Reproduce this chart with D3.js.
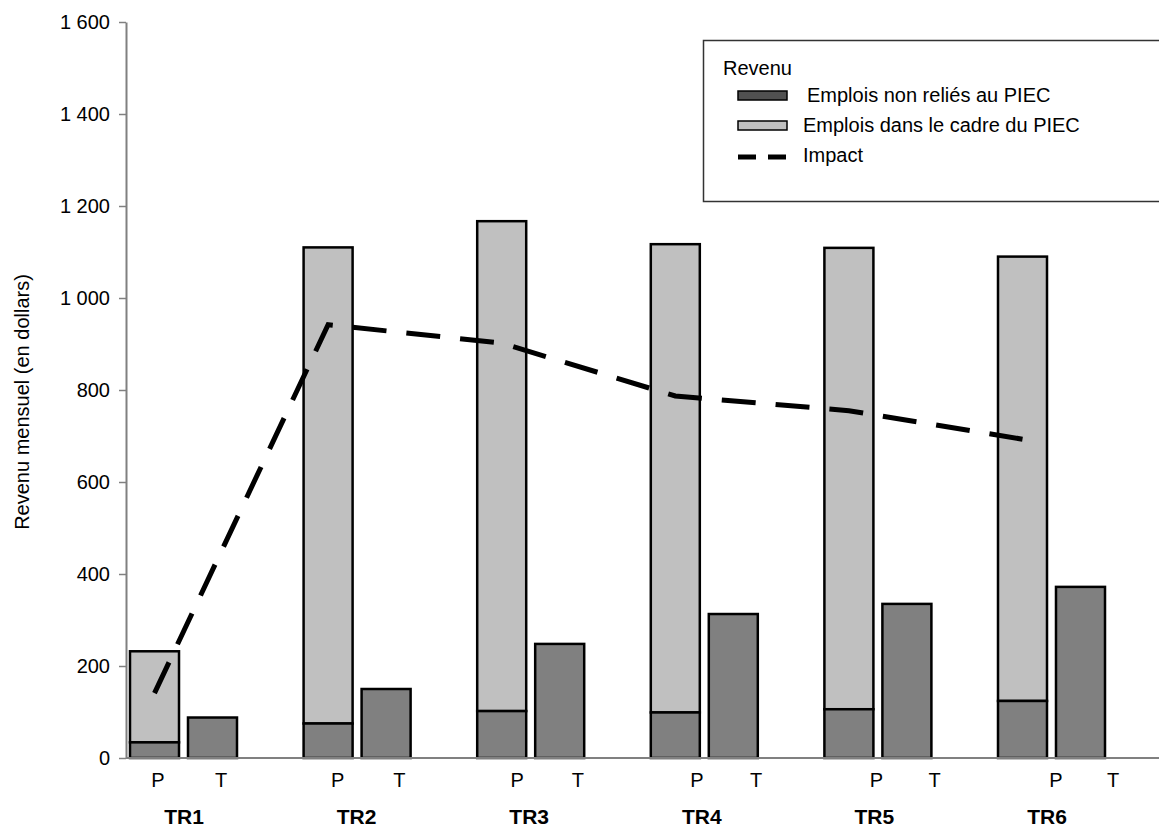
<!DOCTYPE html>
<html>
<head>
<meta charset="utf-8">
<script src="https://cdn.jsdelivr.net/npm/d3@7"></script>
<style>
  body { margin: 0; background: #fff; }
  svg { display: block; font-family: "Liberation Sans", Arial, sans-serif; }
</style>
</head>
<body>
<svg id="chart" width="1159" height="829"></svg>
<script>
// données
var groupes = ["TR1", "TR2", "TR3", "TR4", "TR5", "TR6"];
var sousBarres = ["P", "T"];
var nonPiecP = [34, 75, 102, 99, 106, 124];        // emplois non reliés au PIEC, barre P
var totalP = [232, 1110, 1167, 1117, 1109, 1090];   // total barre P
var nonPiecT = [88, 150, 248, 313, 335, 372];       // barre T
var impact = [141, 942, 902, 787, 755, 693];
var yTicks = [0, 200, 400, 600, 800, 1000, 1200, 1400, 1600];
var legendeItems = ["Emplois non reliés au PIEC", "Emplois dans le cadre du PIEC", "Impact"];

var svg = d3.select("#chart");
var W = 1159, H = 829;
var left = 126, top0 = 22, bottom = 758;

var y = d3.scaleLinear().domain([0, 1600]).range([bottom, top0]);
var x0 = d3.scaleBand().domain(groupes).range([left, left + 6 * 173.6]).padding(0);
var x1 = d3.scaleBand().domain(sousBarres).range([4, 111]).paddingInner(0.155).paddingOuter(0);
// étiquettes P / T / TR (placées à part, comme dans l'original)
var xLabP = d3.scalePoint().domain(groupes).range([158, 1056]);
var xLabT = d3.scalePoint().domain(groupes).range([221, 1113]);
var xLabTR = d3.scalePoint().domain(groupes).range([184, 1047]);

var fmt = function(d) { return d3.format(",")(d).replace(",", " "); };

//axe Y
var yAxis = d3.axisLeft(y).tickValues(yTicks).tickSize(7).tickSizeOuter(0).tickPadding(9).tickFormat(fmt);
var gy = svg.append("g").attr("transform", "translate(" + left + ",0)").call(yAxis);
gy.select(".domain").attr("stroke", "#808080").attr("stroke-width", 2);
gy.selectAll(".tick line").attr("stroke", "#808080").attr("stroke-width", 1.5);
gy.selectAll(".tick text").attr("font-size", 20).attr("fill", "#000")
  .attr("font-family", "\"Liberation Sans\", Arial, sans-serif");

svg.append("text")
  .attr("transform", "translate(29,402) rotate(-90)")
  .attr("text-anchor", "middle")
  .attr("font-size", 20)
  .text("Revenu mensuel (en dollars)");

//barres
var g = svg.append("g");
groupes.forEach(function(grp, i) {
  var bx = x0(grp);
  // barre P : partie PIEC (clair)
  g.append("rect")
    .attr("x", bx + x1("P")).attr("width", x1.bandwidth())
    .attr("y", y(totalP[i])).attr("height", y(nonPiecP[i]) - y(totalP[i]))
    .attr("fill", "#c0c0c0").attr("stroke", "#000").attr("stroke-width", 2.5);
  // barre P : partie non PIEC (foncé)
  g.append("rect")
    .attr("x", bx + x1("P")).attr("width", x1.bandwidth())
    .attr("y", y(nonPiecP[i])).attr("height", y(0) - y(nonPiecP[i]))
    .attr("fill", "#808080").attr("stroke", "#000").attr("stroke-width", 2.5);
  // barre T
  g.append("rect")
    .attr("x", bx + x1("T")).attr("width", x1.bandwidth())
    .attr("y", y(nonPiecT[i])).attr("height", y(0) - y(nonPiecT[i]))
    .attr("fill", "#808080").attr("stroke", "#000").attr("stroke-width", 2.5);
});

//axe X
svg.append("line")
  .attr("x1", left).attr("x2", W).attr("y1", y(0)).attr("y2", y(0))
  .attr("stroke", "#808080").attr("stroke-width", 2);

//ligne impact
var line = d3.line()
  .x(function(d, i) { return x0(groupes[i]) + x1("P") + x1.bandwidth() / 2; })
  .y(function(d) { return y(d); });
svg.append("path")
  .datum(impact)
  .attr("d", line)
  .attr("fill", "none")
  .attr("stroke", "#000")
  .attr("stroke-width", 5)
  .attr("stroke-dasharray", "34,20");

//étiquettes
groupes.forEach(function(grp) {
  svg.append("text").attr("x", xLabP(grp)).attr("y", 787).attr("text-anchor", "middle")
    .attr("font-size", 20).text("P");
  svg.append("text").attr("x", xLabT(grp)).attr("y", 787).attr("text-anchor", "middle")
    .attr("font-size", 20).text("T");
  svg.append("text").attr("x", xLabTR(grp)).attr("y", 824).attr("text-anchor", "middle")
    .attr("font-size", 21).attr("font-weight", "bold").text(grp);
});

//légende
var lg = svg.append("g");
lg.append("rect").attr("x", 703.5).attr("y", 40.5).attr("width", 470).attr("height", 161)
  .attr("fill", "#fff").attr("stroke", "#333").attr("stroke-width", 1.5);
lg.append("text").attr("x", 723).attr("y", 75).attr("font-size", 20).text("Revenu");
var swFill = ["#505050", "#c0c0c0"];
legendeItems.forEach(function(t, i) {
  var cy = 95 + i * 30;
  if (i < 2) {
    lg.append("rect").attr("x", 738).attr("y", cy - 4).attr("width", 49).attr("height", 9)
      .attr("fill", swFill[i]).attr("stroke", "#000").attr("stroke-width", 1.5);
  } else {
    lg.append("line").attr("x1", 738).attr("x2", 787).attr("y1", cy + 2).attr("y2", cy + 2)
      .attr("stroke", "#000").attr("stroke-width", 5).attr("stroke-dasharray", "18,12");
  }
  lg.append("text").attr("x", i === 0 ? 807 : 803).attr("y", cy + 7).attr("font-size", 20).text(t);
});
</script>
</body>
</html>
